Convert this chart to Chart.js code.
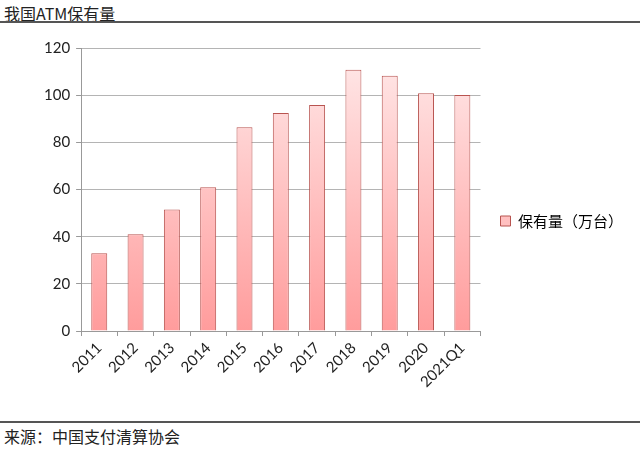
<!DOCTYPE html>
<html>
<head>
<meta charset="utf-8">
<script src="https://cdn.jsdelivr.net/npm/chart.js@4"></script>
<style>
  body { margin: 0; width: 640px; height: 449px; background: #fff; position: relative; overflow: hidden; font-family: "Noto Sans CJK SC", sans-serif; }
  #title { position: absolute; left: 4px; top: 1px; font-size: 16px; color: #222; }
  #topline { position: absolute; left: 0; top: 21px; width: 640px; height: 2px; background: #555; }
  #box { position: absolute; left: 0; top: 24px; width: 640px; height: 394px; }
  #botline { position: absolute; left: 0; top: 421px; width: 640px; height: 2px; background: #555; }
  #source { position: absolute; left: 4px; top: 424px; font-size: 16px; color: #222; }
</style>
</head>
<body>
<div id="title">我国ATM保有量</div>
<div id="topline"></div>
<div id="box"><canvas id="graph1"></canvas></div>
<div id="botline"></div>
<div id="source">来源：中国支付清算协会</div>
<script>
// 万台
const years = ['2011', '2012', '2013', '2014', '2015', '2016', '2017', '2018', '2019', '2020', '2021Q1'];
const holdings = [33.0, 41.0, 51.5, 61.0, 86.4, 92.4, 95.8, 110.8, 108.2, 100.8, 100.1];
const seriesName = '保有量（万台）';

function barGradient(context) {
    const chart = context.chart;
    const area = chart.chartArea;
    if (!area) return '#ffb0b0';
    const g = chart.ctx.createLinearGradient(0, area.top, 0, area.bottom);
    g.addColorStop(0, '#ffeaea');
    g.addColorStop(1, '#ff9c9c');
    return g;
}

const config = {
    type: 'bar',
    data: {
        labels: years,
        datasets: [
            {
                label: seriesName,
                data: holdings,
                backgroundColor: barGradient,
                borderColor: '#b85450',
                borderWidth: 1,
                barPercentage: 0.44,
                categoryPercentage: 1.0,
            }
        ]
    },
    options: {
        responsive: true,
        maintainAspectRatio: false,
        animation: false,
        layout: {
            padding: { left: 38, right: 12, top: 24, bottom: 24 }
        },
        scales: {
            y: {
                min: 0,
                max: 120,
                ticks: {
                    stepSize: 20,
                    color: '#222',
                    padding: 6,
                    font: { family: 'Lato', size: 15 }
                },
                grid: {
                    color: '#b4b4b4',
                    tickLength: 5,
                    tickColor: '#999'
                },
                border: { color: '#999' }
            },
            x: {
                ticks: {
                    color: '#222',
                    maxRotation: 45,
                    minRotation: 45,
                    font: { family: 'Lato', size: 15 }
                },
                grid: {
                    offset: true,
                    drawOnChartArea: false,
                    tickLength: 5,
                    tickColor: '#999'
                },
                border: { color: '#999' }
            }
        },
        plugins: {
            legend: {
                position: 'right',
                labels: {
                    boxWidth: 10,
                    boxHeight: 10,
                    padding: 20,
                    color: '#222',
                    font: { family: 'Noto Sans CJK SC', size: 15 },
                    generateLabels: function(chart) {
                        return [{
                            text: seriesName,
                            fillStyle: '#ffc0c0',
                            strokeStyle: '#b85450',
                            lineWidth: 1,
                            datasetIndex: 0
                        }];
                    }
                }
            },
            tooltip: { enabled: false }
        }
    }
};

const myChart = new Chart(
    document.getElementById('graph1'),
    config
);
</script>
</body>
</html>
